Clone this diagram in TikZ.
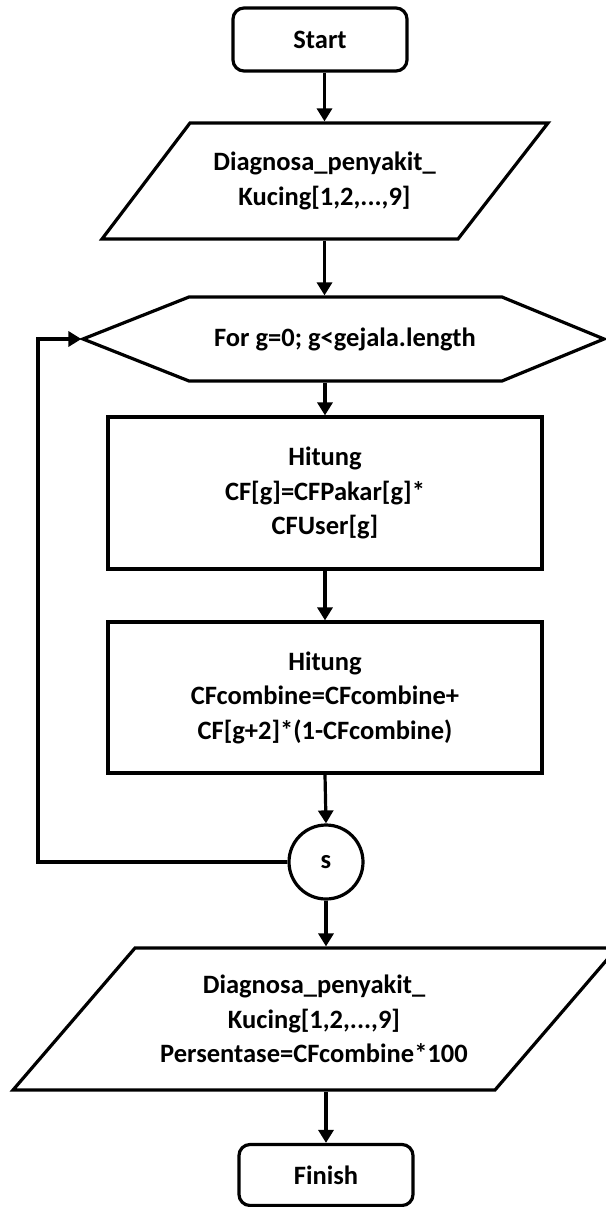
\documentclass[tikz,border=0pt]{standalone}
\usepackage{fontspec}
\setmainfont{Carlito}
\usetikzlibrary{arrows.meta,calc}

\begin{document}
\begin{tikzpicture}[x=1pt,y=-1pt,
  line width=3.2pt, line join=miter,
  txt/.style={font=\fontsize{26.5}{34.5}\selectfont\bfseries, align=center, inner sep=0pt},
  terminal/.style={draw, rounded corners=11pt, inner sep=0pt, minimum height=63pt, minimum width=174pt},
  ghost/.style={inner sep=0pt, minimum width=#1},
  arr/.style={-{Triangle[length=13pt,width=15pt]}, line width=3.2pt}]
\useasboundingbox (0,0) rectangle (605,1207);

% terminals
\node[terminal, txt] (start) at (320,39.5) {Start};
\node[terminal, txt, minimum height=61pt] (finish) at (326,1175) {Finish};

% input parallelogram
\draw (190,123) -- (548,123) -- (458,239) -- (102,239) -- cycle;
\node[ghost=358pt, minimum height=116pt] (p1) at (324.5,181) {};
\node[txt] at (324.5,181) {Diagnosa\_penyakit\_\\Kucing[1,2,...,9]};

% loop header
\draw (83,339) -- (189,297) -- (502,297) -- (604,339) -- (502,381) -- (189,381) -- cycle;
\node[ghost=521pt, minimum height=84pt] (hex) at (343.5,339) {};
\node[txt] at (345,339) {For g=0; g<gejala.length};

% process boxes
\node[draw, txt, minimum width=434pt, minimum height=152pt] (b1) at (325,493)
  {Hitung\\CF[g]=CFPakar[g]*\\CFUser[g]};
\node[draw, txt, minimum width=434pt, minimum height=151pt] (b2) at (325,697.5)
  {Hitung\\CFcombine=CFcombine+\\CF[g+2]*(1-CFcombine)};

% connector circle
\node[draw, circle, txt, minimum size=74pt] (s) at (326,862) {s};

% output parallelogram
\draw (135,948) -- (617,948) -- (495,1090) -- (13,1090) -- cycle;
\node[ghost=482pt, minimum height=142pt] (p2) at (315,1019) {};
\node[txt] at (314,1019) {Diagnosa\_penyakit\_\\Kucing[1,2,...,9]\\Persentase=CFcombine*100};

% flow
\draw[arr] (p1.north |- start.south) -- (p1.north);
\draw[arr] (p1.south) -- (p1.south |- hex.north);
\draw[arr] (b1.north |- hex.south) -- (b1.north);
\draw[arr] (b1.south) -- (b2.north);
\draw[arr] (b2.south) -- (s.north);
\draw[arr] (s.south) -- (s.south |- p2.north);
\draw[arr] (finish.north |- p2.south) -- (finish.north);

% loop back
\coordinate (lx) at (38,0);
\draw[arr] (s.west) -- (s.west -| lx) |- (hex.west);
\end{tikzpicture}
\end{document}
